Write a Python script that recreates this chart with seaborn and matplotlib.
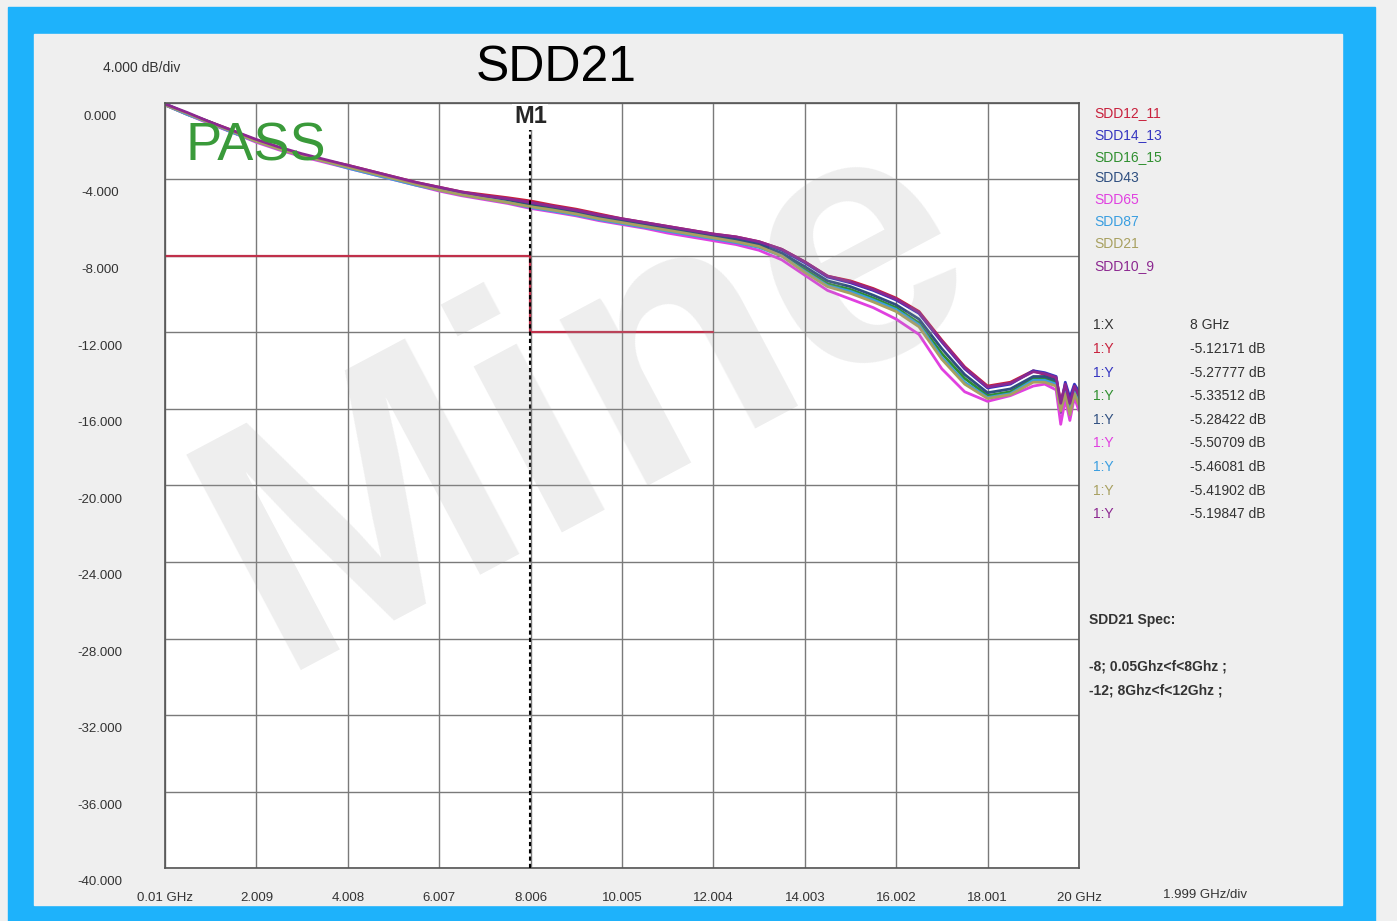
import numpy as np
import pandas as pd
import seaborn as sns
from matplotlib import pyplot as plt
from matplotlib import transforms
from matplotlib.patches import Rectangle

# frequency points (GHz) shared by all traces
freq = [0.01, 0.5, 1, 1.5, 2, 2.5, 3, 3.5, 4, 4.5, 5, 5.5, 6, 6.5, 7, 7.5, 8, 8.5,
        9, 9.5, 10, 10.5, 11, 11.5, 12, 12.5, 13, 13.5, 14, 14.5, 15, 15.5, 16, 16.5,
        17, 17.5, 18, 18.5, 19, 19.25, 19.5, 19.6, 19.7, 19.8, 19.9, 20]

sdd12_11 = [-0.10, -0.55, -1.00, -1.45, -1.95, -2.35, -2.70, -3.00, -3.25, -3.55, -3.85, -4.15,
            -4.40, -4.65, -4.80, -4.95, -5.12, -5.35, -5.55, -5.80, -6.05, -6.25, -6.45, -6.65,
            -6.85, -7.00, -7.25, -7.65, -8.30, -9.05, -9.30, -9.70, -10.20, -10.90, -12.40, -13.80,
            -14.80, -14.60, -14.00, -14.20, -14.40, -15.60, -14.80, -15.80, -14.90, -15.40]
sdd14_13 = [-0.05, -0.55, -1.05, -1.50, -1.95, -2.35, -2.70, -3.00, -3.30, -3.60, -3.90, -4.20,
            -4.50, -4.75, -4.90, -5.05, -5.28, -5.45, -5.65, -5.90, -6.10, -6.30, -6.50, -6.70,
            -6.90, -7.05, -7.30, -7.70, -8.35, -9.10, -9.40, -9.80, -10.30, -11.00, -12.50, -13.90,
            -14.90, -14.70, -14.00, -14.10, -14.30, -15.90, -14.60, -15.40, -14.70, -15.10]
sdd16_15 = [-0.10, -0.60, -1.05, -1.55, -2.00, -2.40, -2.75, -3.05, -3.35, -3.65, -3.95, -4.25,
            -4.55, -4.80, -4.95, -5.15, -5.34, -5.55, -5.75, -6.00, -6.25, -6.45, -6.65, -6.85,
            -7.05, -7.25, -7.50, -7.95, -8.70, -9.45, -9.75, -10.20, -10.70, -11.50, -13.10, -14.40,
            -15.30, -15.10, -14.40, -14.40, -14.60, -15.80, -14.90, -16.10, -15.00, -15.60]
sdd43 = [-0.05, -0.55, -1.00, -1.50, -1.95, -2.35, -2.70, -3.00, -3.30, -3.60, -3.90, -4.20,
         -4.45, -4.70, -4.90, -5.05, -5.28, -5.45, -5.70, -5.95, -6.15, -6.35, -6.55, -6.75,
         -6.95, -7.15, -7.40, -7.85, -8.55, -9.30, -9.60, -10.05, -10.55, -11.30, -12.85, -14.20,
         -15.15, -14.95, -14.30, -14.30, -14.50, -16.20, -15.00, -15.90, -15.20, -15.80]
sdd65 = [-0.10, -0.60, -1.10, -1.55, -2.05, -2.45, -2.80, -3.10, -3.40, -3.70, -4.00, -4.30,
         -4.60, -4.85, -5.05, -5.25, -5.51, -5.70, -5.90, -6.15, -6.35, -6.55, -6.80, -7.00,
         -7.20, -7.40, -7.70, -8.20, -9.00, -9.80, -10.25, -10.70, -11.30, -12.10, -13.90, -15.10,
         -15.60, -15.30, -14.80, -14.70, -15.00, -16.80, -15.50, -16.60, -15.40, -16.10]
sdd87 = [-0.10, -0.60, -1.05, -1.55, -2.00, -2.40, -2.75, -3.05, -3.40, -3.70, -4.00, -4.30,
         -4.55, -4.80, -5.00, -5.20, -5.46, -5.65, -5.85, -6.10, -6.30, -6.50, -6.70, -6.90,
         -7.10, -7.30, -7.55, -8.00, -8.80, -9.55, -9.85, -10.30, -10.80, -11.60, -13.30, -14.60,
         -15.40, -15.20, -14.50, -14.50, -14.70, -16.00, -15.10, -16.20, -15.10, -15.70]
sdd21 = [-0.10, -0.55, -1.05, -1.50, -2.00, -2.40, -2.75, -3.05, -3.35, -3.65, -3.95, -4.25,
         -4.55, -4.80, -5.00, -5.20, -5.42, -5.60, -5.80, -6.05, -6.25, -6.45, -6.65, -6.85,
         -7.05, -7.25, -7.50, -8.00, -8.85, -9.60, -9.95, -10.40, -10.90, -11.70, -13.40, -14.70,
         -15.45, -15.25, -14.60, -14.60, -14.80, -16.10, -15.20, -16.30, -15.20, -15.80]
sdd10_9 = [-0.05, -0.50, -1.00, -1.45, -1.90, -2.30, -2.65, -2.95, -3.25, -3.55, -3.85, -4.15,
           -4.40, -4.65, -4.85, -5.00, -5.20, -5.40, -5.60, -5.85, -6.05, -6.25, -6.45, -6.65,
           -6.85, -7.00, -7.25, -7.65, -8.30, -9.05, -9.35, -9.75, -10.25, -10.95, -12.45, -13.85,
           -14.85, -14.65, -14.05, -14.15, -14.35, -15.70, -14.70, -15.70, -14.80, -15.30]

trace_names = ["SDD12_11", "SDD14_13", "SDD16_15", "SDD43", "SDD65", "SDD87", "SDD21", "SDD10_9"]
trace_colors = ["#c8203c", "#3434c0", "#2f8f2f", "#2f4f80", "#e040e0", "#3a9ee0", "#a8a060", "#8c2890"]
trace_values = [sdd12_11, sdd14_13, sdd16_15, sdd43, sdd65, sdd87, sdd21, sdd10_9]

# marker readout at 8 GHz
marker_x = "8 GHz"
marker_y = ["-5.12171 dB", "-5.27777 dB", "-5.33512 dB", "-5.28422 dB",
            "-5.50709 dB", "-5.46081 dB", "-5.41902 dB", "-5.19847 dB"]

# spec mask
spec_freq = [0.01, 8, 8, 12]
spec_limit = [-8, -8, -12, -12]

x_ticks = [0.01 + 1.999 * k for k in range(11)]
x_labels = ["0.01 GHz", "2.009", "4.008", "6.007", "8.006", "10.005",
            "12.004", "14.003", "16.002", "18.001", "20 GHz"]
y_ticks = [0, -4, -8, -12, -16, -20, -24, -28, -32, -36, -40]
y_labels = ["0.000", "-4.000", "-8.000", "-12.000", "-16.000", "-20.000",
            "-24.000", "-28.000", "-32.000", "-36.000", "-40.000"]

sns.set_style("white")
plt.rcParams['font.family'] = ['Liberation Sans', 'DejaVu Sans']

W, H = 1397, 921
fig = plt.figure(figsize=(W / 100, H / 100), dpi=100, facecolor="#f0f0f0")

def px(x, y):
    # image pixel coords (top-left origin) -> figure fraction
    return x / W, 1 - y / H

# blue frame and grey panel
fig.patches.append(Rectangle((8 / W, 0), (1375 - 8) / W, (921 - 7) / H,
                             transform=fig.transFigure, color="#1eb2fb", zorder=-2))
fig.patches.append(Rectangle((34 / W, 16 / H), 1308 / W, 871 / H,
                             transform=fig.transFigure, color="#efefef", zorder=-1))

ax = fig.add_axes([165 / W, 1 - 868 / H, (1079 - 165) / W, (868 - 103) / H])
ax.set_facecolor("white")

rows = []
for name, vals in zip(trace_names, trace_values):
    for f, v in zip(freq, vals):
        rows.append((name, f, v))
df = pd.DataFrame(rows, columns=["trace", "freq", "dB"])

sns.lineplot(data=df, x="freq", y="dB", hue="trace", hue_order=trace_names,
             palette=trace_colors, legend=False, estimator=None, sort=False,
             linewidth=2.0, ax=ax)

ax.plot(spec_freq, spec_limit, color="#c0304a", linewidth=1.6, zorder=1)
ax.axvline(8, color="black", linestyle=(0, (2, 1.5)), linewidth=1.5, zorder=4)
ax.text(8, -0.73, "M1", ha="center", va="center", fontsize=17, fontweight="bold",
        bbox=dict(facecolor="white", edgecolor="none", pad=1), zorder=5)
ax.text(0.45, -2.3, "PASS", ha="left", va="center", fontsize=39, color="#3a9a3a", zorder=6)

ax.set_xlim(0.01, 20)
ax.set_ylim(-40, 0)
ax.set_xticks(x_ticks)
ax.set_xticklabels(x_labels)
ax.set_yticks(y_ticks)
ax.set_yticklabels([])
ax.tick_params(axis="x", length=0, pad=17, labelsize=9.5, labelcolor="#333333")
ax.tick_params(axis="y", length=0)
ax.grid(True, color="#7a7a7a", linewidth=1)
ax.set_axisbelow(True)
ax.set_xlabel("")
ax.set_ylabel("")
for s in ax.spines.values():
    s.set_color("#555555")
    s.set_linewidth(1.2)

# y labels sit a bit below their grid lines
shift = transforms.ScaledTranslation(0, -14 / 100, fig.dpi_scale_trans)
ytr = transforms.blended_transform_factory(ax.transAxes, ax.transData) + shift
for v, lab in zip(y_ticks, y_labels):
    ax.text(-0.071, v, lab, transform=ytr, ha="center", va="center",
            fontsize=9.5, color="#333333", clip_on=False)

fig.text(*px(142, 68), "4.000 dB/div", ha="center", va="center", fontsize=10, color="#333333")
fig.text(*px(1205, 895), "1.999 GHz/div", ha="center", va="center", fontsize=9.5, color="#333333")
fig.text(*px(556, 68), "SDD21", ha="center", va="center", fontsize=36, color="black")

# legend names
for i, (name, c) in enumerate(zip(trace_names, trace_colors)):
    fig.text(*px(1094, 113 + 21.8 * i), name, ha="left", va="center", fontsize=10, color=c)

# marker table
fig.text(*px(1093, 325), "1:X", ha="left", va="center", fontsize=10, color="#333333")
fig.text(*px(1190, 325), marker_x, ha="left", va="center", fontsize=10, color="#333333")
for i, (val, c) in enumerate(zip(marker_y, trace_colors)):
    y = 349 + 23.6 * i
    fig.text(*px(1093, y), "1:Y", ha="left", va="center", fontsize=10, color=c)
    fig.text(*px(1190, y), val, ha="left", va="center", fontsize=10, color="#333333")

# spec text
fig.text(*px(1089, 620), "SDD21 Spec:", ha="left", va="center", fontsize=10,
         fontweight="bold", color="#333333")
fig.text(*px(1089, 666), "-8; 0.05Ghz<f<8Ghz ;", ha="left", va="center", fontsize=10,
         fontweight="bold", color="#333333")
fig.text(*px(1089, 690), "-12; 8Ghz<f<12Ghz ;", ha="left", va="center", fontsize=10,
         fontweight="bold", color="#333333")

# faint watermark laid over everything
fig.text(*px(590, 400), "Mine", ha="center", va="center", fontsize=255, fontweight="bold",
         rotation=28, color="#a0a0a0", alpha=0.18, zorder=20)

fig.savefig("out.png", dpi=100, facecolor=fig.get_facecolor())
